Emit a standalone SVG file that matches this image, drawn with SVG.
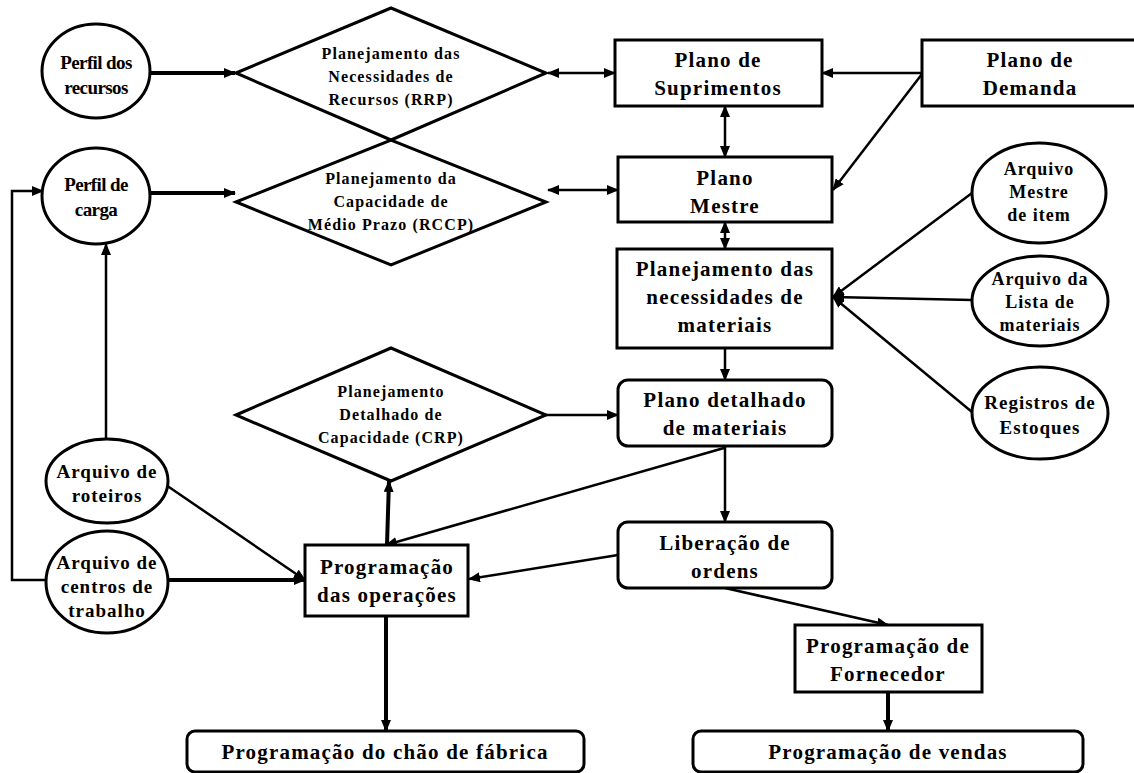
<svg xmlns="http://www.w3.org/2000/svg" width="1134" height="773" viewBox="0 0 1134 773">
<style>
.n{fill:#fff;stroke:#000;stroke-width:3}
.t{font-family:"Liberation Serif","Times New Roman",serif;font-weight:bold;fill:#000;text-anchor:middle}
.big{font-size:21px;letter-spacing:1.2px}
.mid{font-size:19px;letter-spacing:-0.6px}
.el{font-size:19px;letter-spacing:1px}
.es{font-size:18px;letter-spacing:1px}
.sm{font-size:16px;letter-spacing:1.1px}
.c{fill:none;stroke:#000;stroke-width:2.5}
.k{fill:none;stroke:#000;stroke-width:4}
</style>
<defs>
<marker id="a" markerUnits="userSpaceOnUse" markerWidth="12" markerHeight="10" refX="11" refY="5" orient="auto-start-reverse"><path d="M0,0 L12,5 L0,10 Z" fill="#000"/></marker>
</defs>
<rect width="1134" height="773" fill="#fff"/>
<g id="connectors">
<line class="k" x1="150" y1="73" x2="235" y2="73" marker-end="url(#a)"/>
<line class="k" x1="150" y1="193" x2="235" y2="193" marker-end="url(#a)"/>
<line class="c" x1="548" y1="73" x2="615" y2="73" marker-start="url(#a)" marker-end="url(#a)"/>
<line class="c" x1="548" y1="190" x2="618" y2="190" marker-start="url(#a)" marker-end="url(#a)"/>
<line class="c" x1="922" y1="73" x2="822" y2="73" marker-end="url(#a)"/>
<line class="c" x1="922" y1="74" x2="833" y2="190" marker-end="url(#a)"/>
<line class="c" x1="725" y1="106" x2="725" y2="157" marker-start="url(#a)" marker-end="url(#a)"/>
<line class="c" x1="725" y1="222" x2="725" y2="249" marker-start="url(#a)" marker-end="url(#a)"/>
<line class="c" x1="972" y1="193" x2="833" y2="297" marker-end="url(#a)"/>
<line class="c" x1="972" y1="300" x2="833" y2="297" marker-end="url(#a)"/>
<line class="c" x1="972" y1="412" x2="833" y2="297" marker-end="url(#a)"/>
<line class="c" x1="725" y1="348" x2="725" y2="380" marker-end="url(#a)"/>
<line class="c" x1="545" y1="415" x2="618" y2="415" marker-end="url(#a)"/>
<line class="c" x1="725" y1="447" x2="725" y2="522" marker-end="url(#a)"/>
<line class="c" x1="724" y1="448" x2="386" y2="545" marker-end="url(#a)"/>
<line class="c" x1="618" y1="555" x2="469" y2="579" marker-end="url(#a)"/>
<line class="c" x1="725" y1="588" x2="888" y2="625" marker-end="url(#a)"/>
<line class="k" x1="888" y1="692" x2="888" y2="731" marker-end="url(#a)"/>
<line class="k" x1="387" y1="545" x2="389" y2="481" marker-end="url(#a)"/>
<line class="k" x1="386" y1="616" x2="386" y2="731" marker-end="url(#a)"/>
<line class="c" x1="166" y1="485" x2="305" y2="580" marker-end="url(#a)"/>
<line class="k" x1="169" y1="580" x2="305" y2="580" marker-end="url(#a)"/>
<line class="c" x1="106" y1="440" x2="106" y2="244" marker-end="url(#a)"/>
<polyline class="c" points="45,580 12,580 12,191 43,191" marker-end="url(#a)"/>
</g>
<g id="perfil-recursos">
<ellipse class="n" cx="96" cy="71" rx="54" ry="47"/>
<text class="t mid" x="96" y="69">Perfil dos</text>
<text class="t mid" x="96" y="94">recursos</text>
</g>
<g id="perfil-carga">
<ellipse class="n" cx="96" cy="196" rx="54" ry="48"/>
<text class="t mid" x="96" y="191">Perfil de</text>
<text class="t mid" x="96" y="216">carga</text>
</g>
<g id="rrp">
<polygon class="n" style="fill:none" points="236,73 391,8 546,73 391,140"/>
<text class="t sm" x="391" y="59">Planejamento das</text>
<text class="t sm" x="391" y="82">Necessidades de</text>
<text class="t sm" x="391" y="105">Recursos (RRP)</text>
</g>
<g id="rccp">
<polygon class="n" style="fill:none" points="236,202 391,140 546,202 391,265"/>
<text class="t sm" x="391" y="184">Planejamento da</text>
<text class="t sm" x="391" y="207">Capacidade de</text>
<text class="t sm" x="391" y="230">Médio Prazo (RCCP)</text>
</g>
<g id="plano-suprimentos">
<rect class="n" x="615" y="40" width="207" height="66"/>
<text class="t big" x="718" y="67">Plano de</text>
<text class="t big" x="718" y="95">Suprimentos</text>
</g>
<g id="plano-demanda">
<rect class="n" x="922" y="40" width="220" height="66"/>
<text class="t big" x="1030" y="67">Plano de</text>
<text class="t big" x="1030" y="95">Demanda</text>
</g>
<g id="plano-mestre">
<rect class="n" x="618" y="157" width="214" height="65"/>
<text class="t big" x="725" y="185">Plano</text>
<text class="t big" x="725" y="213">Mestre</text>
</g>
<g id="mrp">
<rect class="n" x="617" y="249" width="215" height="99"/>
<text class="t big" x="725" y="276">Planejamento das</text>
<text class="t big" x="725" y="304">necessidades de</text>
<text class="t big" x="725" y="332">materiais</text>
</g>
<g id="arquivo-mestre">
<ellipse class="n" cx="1039" cy="193" rx="67" ry="50"/>
<text class="t es" x="1039" y="175">Arquivo</text>
<text class="t es" x="1039" y="198">Mestre</text>
<text class="t es" x="1039" y="221">de item</text>
</g>
<g id="arquivo-lista">
<ellipse class="n" cx="1040" cy="301" rx="68" ry="45"/>
<text class="t es" x="1040" y="285">Arquivo da</text>
<text class="t es" x="1040" y="308">Lista de</text>
<text class="t es" x="1040" y="331">materiais</text>
</g>
<g id="registros">
<ellipse class="n" cx="1040" cy="413" rx="68" ry="46"/>
<text class="t el" x="1040" y="409">Registros de</text>
<text class="t el" x="1040" y="434">Estoques</text>
</g>
<g id="crp">
<polygon class="n" points="236,415 391,348 546,415 391,481"/>
<text class="t sm" x="391" y="397">Planejamento</text>
<text class="t sm" x="391" y="420">Detalhado de</text>
<text class="t sm" x="391" y="443">Capacidade (CRP)</text>
</g>
<g id="plano-detalhado">
<rect class="n" x="618" y="380" width="214" height="66" rx="10"/>
<text class="t big" x="725" y="407">Plano detalhado</text>
<text class="t big" x="725" y="435">de materiais</text>
</g>
<g id="liberacao">
<rect class="n" x="618" y="522" width="214" height="66" rx="10"/>
<text class="t big" x="725" y="550">Liberação de</text>
<text class="t big" x="725" y="578">ordens</text>
</g>
<g id="arquivo-roteiros">
<ellipse class="n" cx="107" cy="481" rx="61" ry="42"/>
<text class="t el" x="107" y="478">Arquivo de</text>
<text class="t el" x="107" y="502">roteiros</text>
</g>
<g id="arquivo-centros">
<ellipse class="n" cx="107" cy="582" rx="61" ry="51"/>
<text class="t el" x="107" y="569">Arquivo de</text>
<text class="t el" x="107" y="593">centros de</text>
<text class="t el" x="107" y="617">trabalho</text>
</g>
<g id="programacao-operacoes">
<rect class="n" x="305" y="545" width="163" height="71"/>
<text class="t big" x="387" y="574">Programação</text>
<text class="t big" x="387" y="602">das operações</text>
</g>
<g id="programacao-fornecedor">
<rect class="n" x="795" y="625" width="187" height="67"/>
<text class="t big" x="888" y="653">Programação de</text>
<text class="t big" x="888" y="681">Fornecedor</text>
</g>
<g id="chao-fabrica">
<rect class="n" x="187" y="731" width="397" height="41" rx="8"/>
<text class="t big" x="385" y="759">Programação do chão de fábrica</text>
</g>
<g id="vendas">
<rect class="n" x="693" y="731" width="390" height="41" rx="8"/>
<text class="t big" x="888" y="759">Programação de vendas</text>
</g>
</svg>
